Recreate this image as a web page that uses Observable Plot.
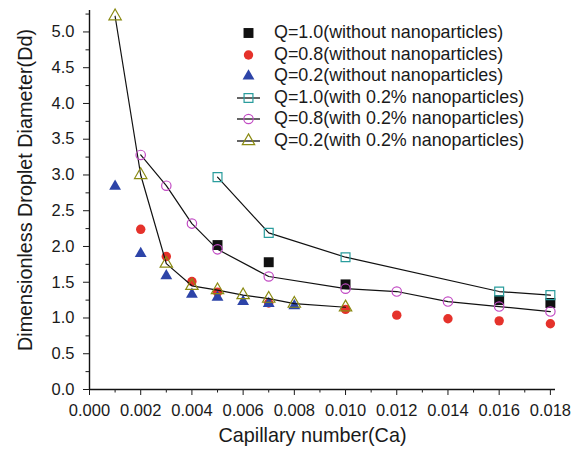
<!DOCTYPE html>
<html><head><meta charset="utf-8">
<script src="https://cdn.jsdelivr.net/npm/d3@7"></script>
<script src="https://cdn.jsdelivr.net/npm/@observablehq/plot@0.6"></script>
<style>
body{margin:0;background:#fff}
#wrap{position:relative;width:581px;height:449px;font-family:"Liberation Sans",Arial,Helvetica,sans-serif}
#wrap svg g[aria-label="x-axis tick label"] text, #wrap svg g[aria-label="y-axis tick label"] text{font-size:16.5px !important}
#wrap svg g[aria-label="text"] text{font-size:19.8px !important}
#legend{position:absolute;left:233px;top:22px;font-size:17.9px;color:#1a1a1a}
.row{display:flex;align-items:center;height:21.5px}
.row svg{margin-right:11px}
</style></head>
<body><div id="wrap"></div>
<script>
// Q=1.0 without nanoparticles
const caQ10 = [0.005, 0.007, 0.010, 0.016, 0.018];
const ddQ10 = [2.02, 1.78, 1.47, 1.25, 1.21];
// Q=0.8 without nanoparticles
const caQ08 = [0.002, 0.003, 0.004, 0.005, 0.007, 0.010, 0.012, 0.014, 0.016, 0.018];
const ddQ08 = [2.24, 1.86, 1.51, 1.36, 1.21, 1.12, 1.04, 0.99, 0.96, 0.92];
// Q=0.2 without nanoparticles
const caQ02 = [0.001, 0.002, 0.003, 0.004, 0.005, 0.006, 0.007, 0.008];
const ddQ02 = [2.84, 1.90, 1.59, 1.33, 1.29, 1.23, 1.20, 1.17];
// Q=1.0 with 0.2% nanoparticles
const caN10 = [0.005, 0.007, 0.010, 0.016, 0.018];
const ddN10 = [2.97, 2.19, 1.85, 1.37, 1.32];
// Q=0.8 with 0.2% nanoparticles
const caN08 = [0.002, 0.003, 0.004, 0.005, 0.007, 0.010, 0.012, 0.014, 0.016, 0.018];
const ddN08 = [3.28, 2.85, 2.32, 1.96, 1.58, 1.41, 1.37, 1.23, 1.16, 1.09];
// Q=0.2 with 0.2% nanoparticles
const caN02 = [0.001, 0.002, 0.003, 0.004, 0.005, 0.006, 0.007, 0.008, 0.010];
const ddN02 = [5.22, 3.00, 1.76, 1.45, 1.39, 1.32, 1.27, 1.20, 1.15];

const labels = [
  "Q=1.0(without nanoparticles)",
  "Q=0.8(without nanoparticles)",
  "Q=0.2(without nanoparticles)",
  "Q=1.0(with 0.2% nanoparticles)",
  "Q=0.8(with 0.2% nanoparticles)",
  "Q=0.2(with 0.2% nanoparticles)"
];
const xTitle = "Capillary number(Ca)";
const yTitle = "Dimensionless Droplet Diameter(Dd)";
const xMajor = [0, 0.002, 0.004, 0.006, 0.008, 0.010, 0.012, 0.014, 0.016, 0.018];
const xMinor = [0.001, 0.003, 0.005, 0.007, 0.009, 0.011, 0.013, 0.015, 0.017];
const yMajor = [0, 0.5, 1, 1.5, 2, 2.5, 3, 3.5, 4, 4.5, 5];
const yMinor = [0.25, 0.75, 1.25, 1.75, 2.25, 2.75, 3.25, 3.75, 4.25, 4.75, 5.25];

const toRows = (xs, ys) => xs.map((x, i) => ({x, y: ys[i]}));
const styles = [
  {symbol: "square", fill: "#111", stroke: "none", r: 5.6, line: false},
  {symbol: "circle", fill: "#e5322b", stroke: "none", r: 4.7, line: false},
  {symbol: "triangle", fill: "#2d44a8", stroke: "none", r: 4.4, line: false},
  {symbol: "square", fill: "none", stroke: "#2a9d9d", r: 5.0, line: true},
  {symbol: "circle", fill: "none", stroke: "#c24cc4", r: 4.7, line: true},
  {symbol: "triangle", fill: "none", stroke: "#8a8a12", r: 4.6, line: true}
];
const series = [
  toRows(caQ10, ddQ10), toRows(caQ08, ddQ08), toRows(caQ02, ddQ02),
  toRows(caN10, ddN10), toRows(caN08, ddN08), toRows(caN02, ddN02)
];

const marks = [];
marks.push(Plot.ruleY([0], {stroke: "#111", strokeWidth: 1.4}));
marks.push(Plot.ruleX([0], {stroke: "#111", strokeWidth: 1.4}));
marks.push(Plot.axisX(xMajor, {tickSize: 6, tickFormat: d3.format(".3f"), tickPadding: 9, label: null}));
marks.push(Plot.axisX(xMinor, {tickSize: 3.5, tickFormat: () => "", label: null}));
marks.push(Plot.axisY(yMajor, {tickSize: 6, tickFormat: d3.format(".1f"), tickPadding: 9, label: null}));
marks.push(Plot.axisY(yMinor, {tickSize: 3.5, tickFormat: () => "", label: null}));
marks.push(Plot.text([xTitle], {frameAnchor: "bottom", dx: -10, dy: 52, fill: "#1a1a1a"}));
marks.push(Plot.text([yTitle], {frameAnchor: "left", textAnchor: "middle", rotate: -90, dx: -64, dy: -10, fill: "#1a1a1a"}));

for (let i = 0; i < 3; i++) {
  const s = styles[i];
  marks.push(Plot.dot(series[i], {x: "x", y: "y", symbol: () => s.symbol, fill: s.fill, stroke: s.stroke, r: s.r}));
}
for (let i = 3; i < 6; i++) {
  marks.push(Plot.line(series[i], {x: "x", y: "y", stroke: "#111", strokeWidth: 1.2}));
}
for (let i = 3; i < 6; i++) {
  const s = styles[i];
  marks.push(Plot.dot(series[i], {x: "x", y: "y", symbol: () => s.symbol, fill: s.fill, stroke: s.stroke, strokeWidth: 1.2, r: s.r}));
}

const chart = Plot.plot({
  width: 581, height: 449,
  marginLeft: 89, marginRight: 26, marginTop: 10, marginBottom: 60,
  style: {fontFamily: "'Liberation Sans', Arial, Helvetica, sans-serif", color: "#1a1a1a", background: "#fff"},
  x: {domain: [0, 0.0182]},
  y: {domain: [0, 5.3]},
  symbol: {type: "identity"},
  marks
});
const wrap = document.getElementById("wrap");
wrap.appendChild(chart);

const leg = document.createElement("div");
leg.id = "legend";
labels.forEach((lab, i) => {
  const s = styles[i];
  const row = document.createElement("div");
  row.className = "row";
  const svg = d3.create("svg").attr("width", 30).attr("height", 21);
  if (s.line) svg.append("line").attr("x1", 4).attr("x2", 27).attr("y1", 11).attr("y2", 11).attr("stroke", "#111").attr("stroke-width", 1.3);
  const sym = {square: d3.symbolSquare, circle: d3.symbolCircle, triangle: d3.symbolTriangle}[s.symbol];
  svg.append("path").attr("transform", "translate(15.5,11)")
    .attr("d", d3.symbol(sym, Math.PI * s.r * s.r)())
    .attr("fill", s.fill).attr("stroke", s.stroke).attr("stroke-width", 1.2);
  row.appendChild(svg.node());
  const t = document.createElement("span");
  t.textContent = lab;
  row.appendChild(t);
  leg.appendChild(row);
});
wrap.appendChild(leg);
</script>
</body></html>
